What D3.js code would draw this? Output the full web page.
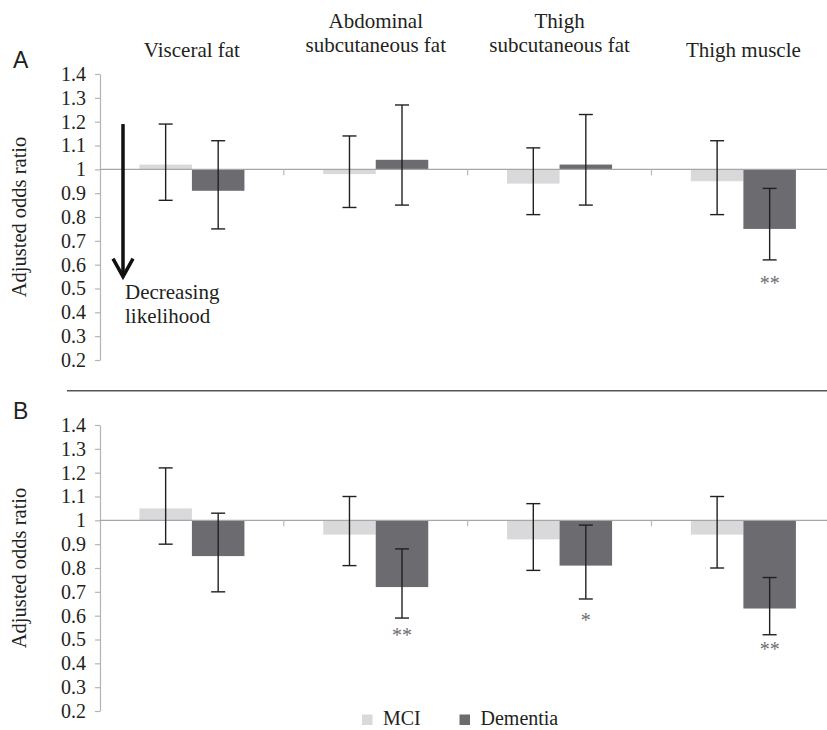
<!DOCTYPE html>
<html>
<head>
<meta charset="utf-8">
<script src="https://cdn.jsdelivr.net/npm/d3@7"></script>
<style>
  html, body { margin: 0; padding: 0; background: #fff; }
  svg { display: block; }
  .serif { font-family: "Liberation Serif", "DejaVu Serif", serif; }
  .sans { font-family: "Liberation Sans", Arial, sans-serif; }
</style>
</head>
<body>
<svg id="chart" width="827" height="730"></svg>
<script>
// ---------------- DATA ----------------
const categories = ["Visceral fat", "Abdominal subcutaneous fat", "Thigh subcutaneous fat", "Thigh muscle"];
const categoryTitleLines = [["Visceral fat"], ["Abdominal", "subcutaneous fat"], ["Thigh", "subcutaneous fat"], ["Thigh muscle"]];
const seriesNames = ["MCI", "Dementia"];
const yTicks = [0.2, 0.3, 0.4, 0.5, 0.6, 0.7, 0.8, 0.9, 1.0, 1.1, 1.2, 1.3, 1.4];
const yTickLabels = ["0.2", "0.3", "0.4", "0.5", "0.6", "0.7", "0.8", "0.9", "1", "1.1", "1.2", "1.3", "1.4"];

// Panel A
const panelA_MCI      = [1.02, 0.98, 0.94, 0.95];
const panelA_MCI_low  = [0.87, 0.84, 0.81, 0.81];
const panelA_MCI_high = [1.19, 1.14, 1.09, 1.12];
const panelA_Dem      = [0.91, 1.04, 1.02, 0.75];
const panelA_Dem_low  = [0.75, 0.85, 0.85, 0.62];
const panelA_Dem_high = [1.12, 1.27, 1.23, 0.92];
const panelA_Dem_sig  = ["", "", "", "**"];
const panelA_Dem_sigAt = [null, null, null, 0.534];

// Panel B
const panelB_MCI      = [1.05, 0.94, 0.92, 0.94];
const panelB_MCI_low  = [0.90, 0.81, 0.79, 0.80];
const panelB_MCI_high = [1.22, 1.10, 1.07, 1.10];
const panelB_Dem      = [0.85, 0.72, 0.81, 0.63];
const panelB_Dem_low  = [0.70, 0.59, 0.67, 0.52];
const panelB_Dem_high = [1.03, 0.88, 0.98, 0.76];
const panelB_Dem_sig  = ["", "**", "*", "**"];
const panelB_Dem_sigAt = [null, 0.532, 0.593, 0.474];

// ---------------- STYLE ----------------
const colors = { MCI: "#d9d9db", Dementia: "#6c6c70" };
const axisGray = "#b4b4b4";
const errColor = "#231f20";
const textColor = "#231f20";

const svg = d3.select("#chart");

const x = d3.scaleBand().domain(categories).range([100, 835.3]).paddingInner(0).paddingOuter(0);
const xs = d3.scaleBand().domain(seriesNames).range([0, x.bandwidth()]).paddingInner(0).paddingOuter(0.75);

// Category titles
categoryTitleLines.forEach((lines, i) => {
  const cx = x(categories[i]) + x.bandwidth() / 2;
  const baselines = lines.length === 1 ? [56.7] : [28, 52];
  lines.forEach((ln, j) => {
    svg.append("text").attr("class", "serif").attr("x", cx).attr("y", baselines[j])
      .attr("text-anchor", "middle").style("font-size", "21px")
      .attr("fill", textColor).text(ln);
  });
});

function buildPanel(cfg) {
  const y = d3.scaleLinear().domain([0.2, 1.4]).range(cfg.yRange);
  const g = svg.append("g");

  // panel letter
  svg.append("text").attr("class", "sans").attr("x", 13).attr("y", cfg.letterY)
    .style("font-size", "23px").attr("fill", textColor).text(cfg.letter);

  // y axis label
  svg.append("text").attr("class", "serif")
    .attr("transform", `translate(26,${(cfg.yRange[0] + cfg.yRange[1]) / 2}) rotate(-90)`)
    .attr("text-anchor", "middle").style("font-size", "20.5px")
    .attr("fill", textColor).text("Adjusted odds ratio");

  // y axis
  const yAxis = d3.axisLeft(y).tickValues(yTicks)
    .tickFormat((d, i) => yTickLabels[i]).tickSize(5).tickPadding(9).tickSizeOuter(0);
  const ya = g.append("g").attr("transform", "translate(100,0)").call(yAxis);
  ya.attr("font-family", null).attr("font-size", null);
  ya.select(".domain").attr("stroke", axisGray).attr("stroke-width", 1.2);
  ya.selectAll(".tick line").attr("stroke", axisGray).attr("stroke-width", 1.2);
  ya.selectAll(".tick text").attr("class", "serif").style("font-size", "20px").attr("fill", textColor);

  // bars
  const series = [
    { name: "MCI", v: cfg.mci, lo: cfg.mciLow, hi: cfg.mciHigh },
    { name: "Dementia", v: cfg.dem, lo: cfg.demLow, hi: cfg.demHigh }
  ];
  series.forEach(s => {
    g.selectAll(null).data(categories).enter().append("rect")
      .attr("x", c => x(c) + xs(s.name))
      .attr("width", xs.bandwidth())
      .attr("y", (c, i) => Math.min(y(s.v[i]), y(1)))
      .attr("height", (c, i) => Math.abs(y(s.v[i]) - y(1)))
      .attr("fill", colors[s.name]);
  });

  // baseline axis at 1
  const y1 = y(1);
  g.append("line").attr("x1", 100).attr("x2", 827).attr("y1", y1).attr("y2", y1)
    .attr("stroke", "#a6a6a6").attr("stroke-width", 1.3);
  categories.slice(1).forEach(c => {
    g.append("line").attr("x1", x(c)).attr("x2", x(c)).attr("y1", y1).attr("y2", y1 + 6)
      .attr("stroke", "#b8b8b8").attr("stroke-width", 1.2);
  });

  // error bars
  const cap = 7;
  series.forEach(s => {
    categories.forEach((c, i) => {
      const cx = x(c) + xs(s.name) + xs.bandwidth() / 2;
      const yl = y(s.lo[i]), yh = y(s.hi[i]);
      g.append("line").attr("x1", cx).attr("x2", cx).attr("y1", yh).attr("y2", yl)
        .attr("stroke", errColor).attr("stroke-width", 1.4);
      [yl, yh].forEach(yy => {
        g.append("line").attr("x1", cx - cap).attr("x2", cx + cap).attr("y1", yy).attr("y2", yy)
          .attr("stroke", errColor).attr("stroke-width", 1.4);
      });
    });
  });

  // significance stars
  categories.forEach((c, i) => {
    if (!cfg.sig[i]) return;
    const cx = x(c) + xs("Dementia") + xs.bandwidth() / 2;
    g.append("text").attr("class", "serif").attr("x", cx).attr("y", y(cfg.sigAt[i]) + 10)
      .attr("text-anchor", "middle").style("font-size", "20px")
      .attr("fill", "#6e6e6e").text(cfg.sig[i]);
  });
  return y;
}

const yA = buildPanel({
  letter: "A", letterY: 67.5, yRange: [360, 74],
  mci: panelA_MCI, mciLow: panelA_MCI_low, mciHigh: panelA_MCI_high,
  dem: panelA_Dem, demLow: panelA_Dem_low, demHigh: panelA_Dem_high,
  sig: panelA_Dem_sig, sigAt: panelA_Dem_sigAt
});
buildPanel({
  letter: "B", letterY: 418.5, yRange: [711, 425],
  mci: panelB_MCI, mciLow: panelB_MCI_low, mciHigh: panelB_MCI_high,
  dem: panelB_Dem, demLow: panelB_Dem_low, demHigh: panelB_Dem_high,
  sig: panelB_Dem_sig, sigAt: panelB_Dem_sigAt
});

// separator line between panels
svg.append("line").attr("x1", 67).attr("x2", 827).attr("y1", 390.7).attr("y2", 390.7)
  .attr("stroke", "#555").attr("stroke-width", 1.5);

// "Decreasing likelihood" arrow (annotation in panel A)
const arrowX = 123;
const arrowTop = yA(1.19), arrowTip = yA(0.55);
svg.append("line").attr("x1", arrowX).attr("x2", arrowX).attr("y1", arrowTop).attr("y2", arrowTip - 2)
  .attr("stroke", "#111").attr("stroke-width", 3.5);
svg.append("path")
  .attr("d", `M${arrowX - 10},${arrowTip - 18} L${arrowX},${arrowTip} L${arrowX + 10},${arrowTip - 18}`)
  .attr("fill", "none").attr("stroke", "#111").attr("stroke-width", 3.5)
  .attr("stroke-linejoin", "miter").attr("stroke-linecap", "butt");
svg.append("text").attr("class", "serif").attr("x", 125).attr("y", 299).style("font-size", "21px")
  .attr("fill", textColor).text("Decreasing");
svg.append("text").attr("class", "serif").attr("x", 125).attr("y", 322.7).style("font-size", "21px")
  .attr("fill", textColor).text("likelihood");

// legend
const legendItems = [{ name: "MCI", sx: 362 }, { name: "Dementia", sx: 459.5 }];
legendItems.forEach(it => {
  svg.append("rect").attr("x", it.sx).attr("y", 714.5).attr("width", 10.5).attr("height", 10.5)
    .attr("fill", colors[it.name]);
  svg.append("text").attr("class", "serif").attr("x", it.sx + 21).attr("y", 724.5)
    .style("font-size", "20px").attr("fill", textColor).text(it.name);
});
</script>
</body>
</html>
